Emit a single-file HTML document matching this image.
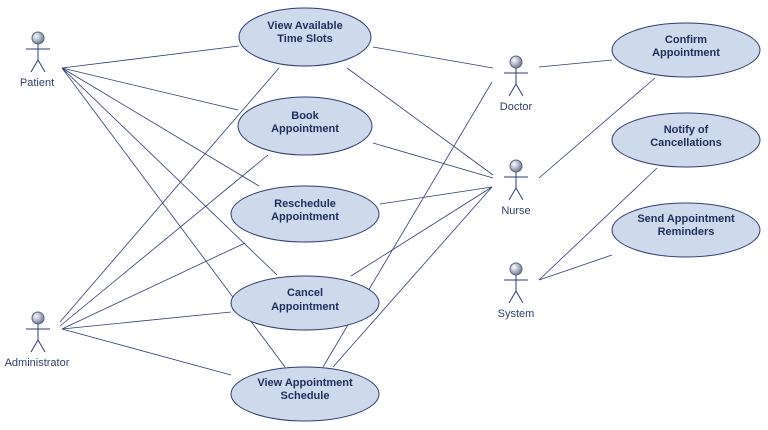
<!DOCTYPE html>
<html><head><style>
html,body{margin:0;padding:0;background:#fff;}
svg{display:block;}
</style></head><body>
<svg width="768" height="430" viewBox="0 0 768 430" xmlns="http://www.w3.org/2000/svg">
<defs>
<radialGradient id="hg" cx="0.35" cy="0.35" r="0.7">
<stop offset="0" stop-color="#ffffff"/><stop offset="1" stop-color="#6a7590"/>
</radialGradient>
</defs>
<g stroke="#2e3d6e" stroke-width="0.8" fill="none">
<line x1="62" y1="68" x2="239" y2="46"/>
<line x1="62" y1="68" x2="238" y2="110"/>
<line x1="62" y1="68" x2="259" y2="186"/>
<line x1="62" y1="68" x2="277" y2="275"/>
<line x1="62" y1="68" x2="285" y2="367"/>
<line x1="60" y1="322" x2="279" y2="68"/>
<line x1="60" y1="326" x2="268" y2="155"/>
<line x1="62" y1="329" x2="245" y2="243"/>
<line x1="62" y1="329" x2="231" y2="312"/>
<line x1="62" y1="329" x2="231" y2="375"/>
<line x1="373" y1="47" x2="493" y2="68"/>
<line x1="539" y1="67" x2="612" y2="60"/>
<line x1="492" y1="82" x2="323" y2="367"/>
<line x1="347" y1="68" x2="493" y2="175"/>
<line x1="373" y1="143" x2="493" y2="178"/>
<line x1="380" y1="204" x2="492" y2="187"/>
<line x1="351" y1="276" x2="492" y2="187"/>
<line x1="333" y1="367" x2="492" y2="187"/>
<line x1="539" y1="178" x2="655" y2="78"/>
<line x1="539" y1="280" x2="657" y2="168"/>
<line x1="539" y1="280" x2="612" y2="255"/>
</g>
<g fill="#cfd9ec" stroke="#2e3d6e" stroke-width="1">
<ellipse cx="305" cy="37" rx="66" ry="29"/>
<ellipse cx="305" cy="126" rx="67" ry="29"/>
<ellipse cx="305" cy="214" rx="74" ry="28"/>
<ellipse cx="305" cy="303" rx="74" ry="27"/>
<ellipse cx="305" cy="394" rx="74" ry="27"/>
<ellipse cx="686" cy="50" rx="74" ry="27"/>
<ellipse cx="686" cy="140" rx="74" ry="27"/>
<ellipse cx="686" cy="230" rx="74" ry="27"/>
</g>
<g font-family="Liberation Sans, sans-serif" font-size="11" font-weight="bold" fill="#1f2d5a" text-anchor="middle">
<text x="305" y="29">View Available</text><text x="305" y="42">Time Slots</text>
<text x="305" y="119">Book</text><text x="305" y="132">Appointment</text>
<text x="305" y="207">Reschedule</text><text x="305" y="220">Appointment</text>
<text x="305" y="296">Cancel</text><text x="305" y="310">Appointment</text>
<text x="305" y="386">View Appointment</text><text x="305" y="399">Schedule</text>
<text x="686" y="43">Confirm</text><text x="686" y="56">Appointment</text>
<text x="686" y="133">Notify of</text><text x="686" y="146">Cancellations</text>
<text x="686" y="222">Send Appointment</text><text x="686" y="235">Reminders</text>
</g>
<g id="actors" stroke="#2e3d6e" stroke-width="1" fill="none">
<!-- Patient -->
<g transform="translate(38,38)"><line x1="0" y1="5" x2="0" y2="22"/><line x1="-12" y1="11" x2="12" y2="11"/><line x1="0" y1="22" x2="-7" y2="34"/><line x1="0" y1="22" x2="7" y2="34"/><circle r="6" fill="url(#hg)" stroke="#5a6580"/></g>
<g transform="translate(38,318)"><line x1="0" y1="5" x2="0" y2="22"/><line x1="-12" y1="11" x2="12" y2="11"/><line x1="0" y1="22" x2="-7" y2="34"/><line x1="0" y1="22" x2="7" y2="34"/><circle r="6" fill="url(#hg)" stroke="#5a6580"/></g>
<g transform="translate(516,62)"><line x1="0" y1="5" x2="0" y2="22"/><line x1="-12" y1="11" x2="12" y2="11"/><line x1="0" y1="22" x2="-7" y2="34"/><line x1="0" y1="22" x2="7" y2="34"/><circle r="6" fill="url(#hg)" stroke="#5a6580"/></g>
<g transform="translate(516,166)"><line x1="0" y1="5" x2="0" y2="22"/><line x1="-12" y1="11" x2="12" y2="11"/><line x1="0" y1="22" x2="-7" y2="34"/><line x1="0" y1="22" x2="7" y2="34"/><circle r="6" fill="url(#hg)" stroke="#5a6580"/></g>
<g transform="translate(516,269)"><line x1="0" y1="5" x2="0" y2="22"/><line x1="-12" y1="11" x2="12" y2="11"/><line x1="0" y1="22" x2="-7" y2="34"/><line x1="0" y1="22" x2="7" y2="34"/><circle r="6" fill="url(#hg)" stroke="#5a6580"/></g>
</g>
<g font-family="Liberation Sans, sans-serif" font-size="11" fill="#2e3d6e" text-anchor="middle">
<text x="37" y="86">Patient</text>
<text x="37" y="366">Administrator</text>
<text x="516" y="110">Doctor</text>
<text x="516" y="214">Nurse</text>
<text x="516" y="317">System</text>
</g>
</svg>
</body></html>
